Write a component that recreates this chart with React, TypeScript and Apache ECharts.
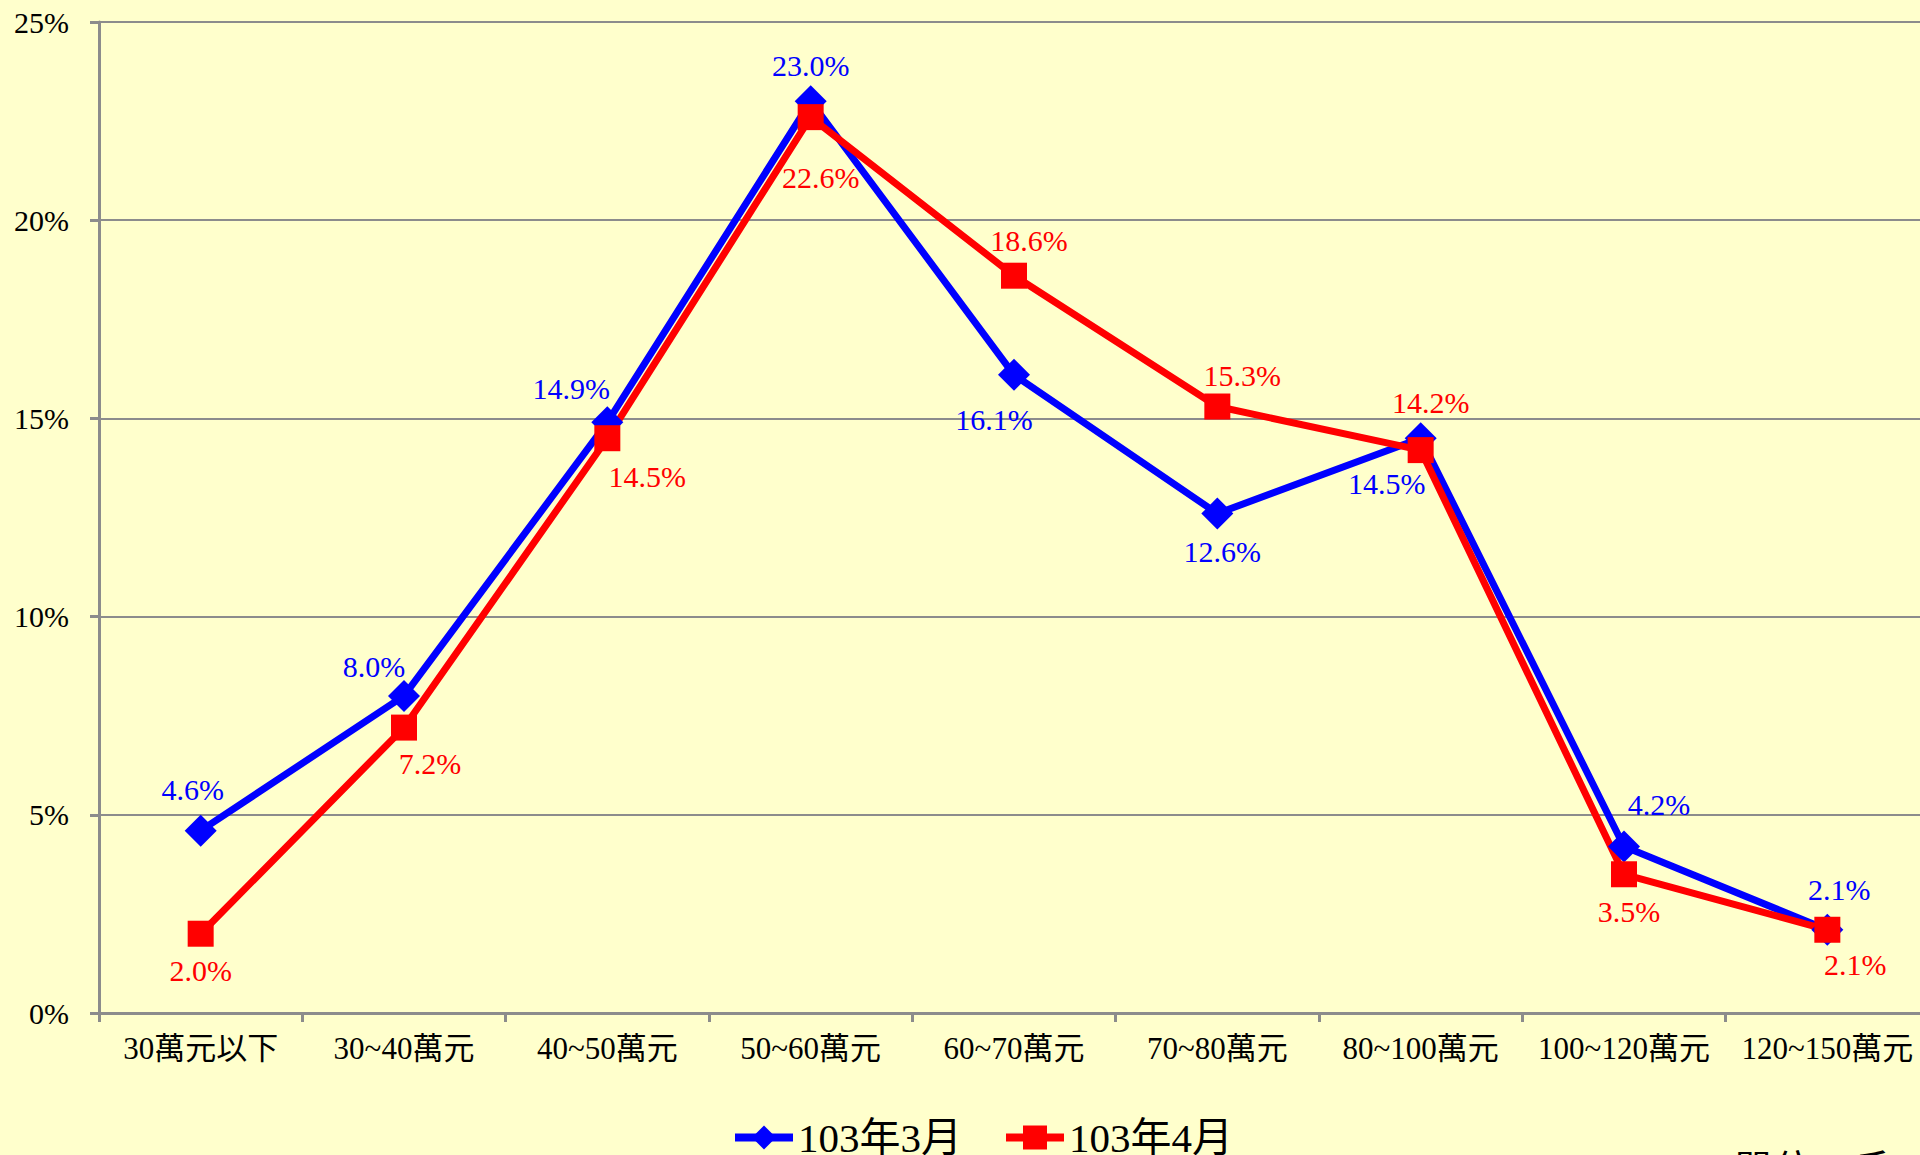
import React, { useEffect, useRef } from "react";
import * as echarts from "echarts";

const categories = [
  "30萬元以下",
  "30~40萬元",
  "40~50萬元",
  "50~60萬元",
  "60~70萬元",
  "70~80萬元",
  "80~100萬元",
  "100~120萬元",
  "120~150萬元",
];
const seriesNames = ["103年3月", "103年4月"];
const marchValues = [4.6, 8.0, 14.9, 23.0, 16.1, 12.6, 14.5, 4.2, 2.1];
const aprilValues = [2.0, 7.2, 14.5, 22.6, 18.6, 15.3, 14.2, 3.5, 2.1];

// label offsets (px) relative to each point
const marchLabelOffsets = [
  [-8, -41], [-30, -29], [-36, -34], [0, -36], [-20, 45], [5, 38], [-34, 45], [35, -42], [12, -40],
];
const aprilLabelOffsets = [
  [0, 37], [26, 36], [40, 38], [10, 60], [15, -35], [25, -31], [10, -48], [5, 37], [28, 35],
];

const FONT = '"Liberation Serif", "Noto Sans CJK TC", serif';

export default function App() {
  const ref = useRef<HTMLDivElement>(null);
  useEffect(() => {
    if (!ref.current) return;
    const chart = echarts.init(ref.current, null, { renderer: "svg" });
    const mk = (vals: number[], offs: number[][], color: string) =>
      vals.map((v, i) => ({
        value: v,
        label: {
          show: true,
          position: "inside",
          offset: offs[i],
          color,
          fontSize: 30,
          fontFamily: FONT,
          formatter: (p: any) => p.value.toFixed(1) + "%",
        },
      }));
    chart.setOption({
      animation: false,
      backgroundColor: "#FFFFCC",
      grid: { left: 99, top: 22, bottom: 142, right: 0, containLabel: false },
      legend: {
        data: seriesNames,
        bottom: -8,
        left: 726,
        itemWidth: 58,
        itemHeight: 30,
        itemGap: 40,
        lineStyle: { width: 8 },
        textStyle: { fontSize: 41, fontFamily: FONT, color: "#000" },
      },
      xAxis: {
        type: "category",
        data: categories,
        boundaryGap: true,
        axisLine: { lineStyle: { color: "#8c8c8c", width: 3 } },
        axisTick: { show: true, length: 9, lineStyle: { color: "#8c8c8c", width: 3 } },
        axisLabel: { fontSize: 31, fontFamily: FONT, color: "#000", margin: 20, interval: 0 },
      },
      yAxis: {
        type: "value",
        min: 0,
        max: 25,
        interval: 5,
        axisLine: { show: true, lineStyle: { color: "#8c8c8c", width: 3 } },
        axisTick: { show: true, length: 9, lineStyle: { color: "#8c8c8c", width: 3 } },
        splitLine: { lineStyle: { color: "#8c8c8c", width: 2 } },
        axisLabel: {
          formatter: "{value}%",
          fontSize: 30,
          fontFamily: FONT,
          color: "#000",
          margin: 30,
        },
      },
      series: [
        {
          name: seriesNames[0],
          type: "line",
          data: mk(marchValues, marchLabelOffsets, "#0000FF"),
          symbol: "diamond",
          symbolSize: [32, 32],
          lineStyle: { color: "#0000FF", width: 7 },
          itemStyle: { color: "#0000FF" },
        },
        {
          name: seriesNames[1],
          type: "line",
          data: mk(aprilValues, aprilLabelOffsets, "#FF0000"),
          symbol: "rect",
          symbolSize: 26,
          lineStyle: { color: "#FF0000", width: 7 },
          itemStyle: { color: "#FF0000" },
        },
      ],
      graphic: [
        {
          type: "text",
          left: 1733,
          top: 1150,
          style: { text: "單位：戶", fontSize: 40, fontFamily: FONT, fill: "#000" },
        },
      ],
    });
    return () => chart.dispose();
  }, []);
  return (
    <div
      ref={ref}
      style={{ position: "fixed", left: 0, top: 0, width: 1929, height: 1155 }}
    />
  );
}
